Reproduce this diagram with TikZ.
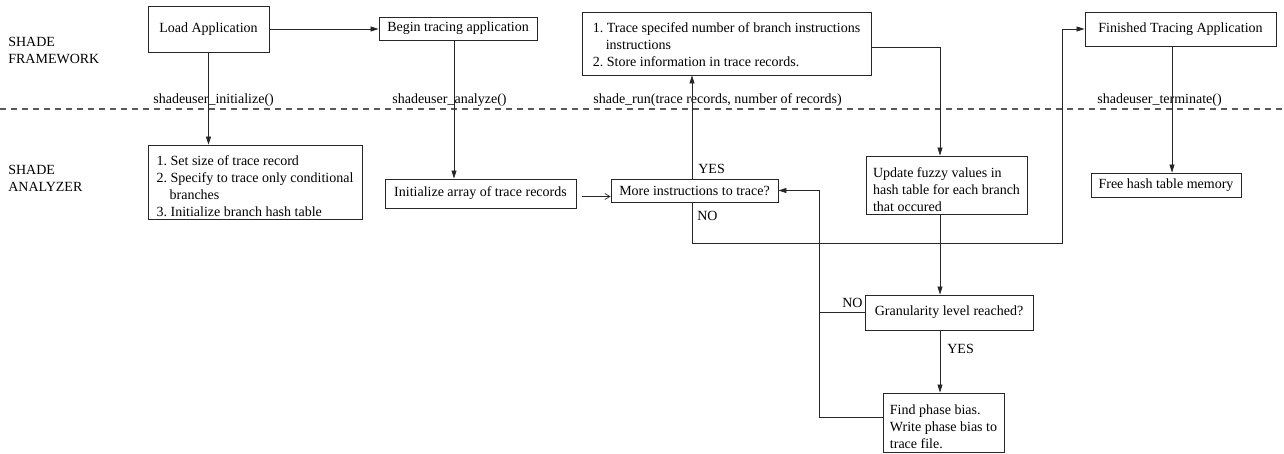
\documentclass[tikz,border=0pt]{standalone}
\usepackage{fontspec}
\setmainfont{Liberation Serif}
\usetikzlibrary{arrows.meta}
\usetikzlibrary{positioning}
\frenchspacing
\newcommand{\boxlines}[1]{\begin{tabular}[t]{@{}l@{}}#1\end{tabular}}

\begin{document}
\begin{tikzpicture}[x=1pt,y=-1pt,>={Triangle[length=8pt,width=5pt]},line width=0.7pt,draw=black!85]%,on grid
        \tikzstyle{every node}=[font=\fontsize{14}{17}\selectfont]
        \tikzstyle{box}=[draw=black!85, line width=0.9pt, inner xsep=6pt, inner ysep=0pt]
        \tikzstyle{lbl}=[inner sep=0pt, anchor=base west]
        \useasboundingbox (0,0) rectangle (1284,453);
        \node[inner sep=0pt, anchor=north west, align=left] (framework) at (8,37) {SHADE\\ FRAMEWORK};
        \node[inner sep=0pt, anchor=north west, align=left] (analyzer) at (8,165) {SHADE\\ ANALYZER};
        \draw[black!65, line width=1.2pt, dash pattern=on 6pt off 5pt] (0,109) -- (1284,109);
        \node[lbl] (init) at (153,103) {shadeuser\_initialize()};
        \node[lbl] (analyze) at (392,103) {shadeuser\_analyze()};
        \node[lbl] (run) at (593,103) {shade\_run(trace records, number of records)};
        \node[lbl] (terminate) at (1097,103) {shadeuser\_terminate()};
        \node[box, minimum width=121pt, minimum height=46pt] (load) at (208.5,29) {Load Application};
        \node[box, minimum width=158pt, minimum height=23pt] (begin) at (458,28.5) {Begin tracing application};
        \node[box, minimum width=289pt, minimum height=63pt, text height=14.9pt, text depth=36.1pt] (trace) at (726.5,43.5) {\boxlines{1. Trace specifed number of branch instructions\\ \hspace*{13pt}instructions\\ 2. Store information in trace records.}};
        \node[box, minimum width=191pt, minimum height=34pt] (finished) at (1180.5,29) {Finished Tracing Application};
        \node[box, minimum width=214pt, minimum height=74pt, text height=17.9pt, text depth=50.1pt] (setsize) at (255,182) {\boxlines{1. Set size of trace record\\ 2. Specify to trace only conditional\\ \hspace*{13pt}branches\\ 3. Initialize branch hash table}};
        \node[box, minimum width=191pt, minimum height=29pt] (initarray) at (480.5,193.5) {Initialize array of trace records};
        \node[box, minimum width=167pt, minimum height=23pt] (more) at (694.5,190.5) {More instructions to trace?};
        \node[box, minimum width=161pt, minimum height=58pt, text height=17.9pt, text depth=33.1pt] (update) at (946.5,185) {\boxlines{Update fuzzy values in\\ hash table for each branch\\ that occured}};
        \node[box, minimum width=150pt, minimum height=24pt] (free) at (1166,185) {Free hash table memory};
        \node[box, minimum width=168pt, minimum height=35pt] (gran) at (949,312.5) {Granularity level reached?};
        \node[box, minimum width=121pt, minimum height=59pt, text height=17.9pt, text depth=33.1pt] (phase) at (943.5,422.5) {\boxlines{Find phase bias.\\ Write phase bias to\\ trace file.}};
        \node[lbl] (yesmore) at (698,173) {YES};
        \node[lbl] (nomore) at (697,220) {NO};
        \node[lbl] (nogran) at (842,307) {NO};
        \node[lbl] (yesgran) at (947,353) {YES};
        \coordinate (nobend) at (1062,243);
        \coordinate (back) at (819,312.5);
        \path [->,draw] (load.east) -- (load.east -| begin.west);
        \path [->,draw] (load.south) -- (load.south |- setsize.north);
        \path [->,draw] ([xshift=-4pt]begin.south) -- ([xshift=-4pt]begin.south |- initarray.north);
        \path [draw,-{Straight Barb[length=5pt,width=6pt]}] ([xshift=6pt,yshift=-3pt]initarray.east) -- ([yshift=-3pt]initarray.east -| more.west);
        \path [->,draw] ([xshift=-2.5pt]more.north) -- ([xshift=-2.5pt]more.north |- trace.south);
        \path [->,draw] ([yshift=-3.5pt]trace.east) -| ([xshift=-6.5pt]update.north);
        \path [->,draw] ([xshift=-2.5pt]more.south) |- (nobend) |- (finished.west);
        \path [->,draw] ([xshift=-6.5pt]update.south) -- ([xshift=-6.5pt]update.south |- gran.north);
        \path [draw] (gran.west) -- (back);
        \path [->,draw] ([yshift=5.5pt]phase.west) -| (back) |- (more.east);
        \path [->,draw] ([xshift=-9pt]gran.south) -- ([xshift=-9pt]gran.south |- phase.north);
        \path [->,draw] ([xshift=-8.5pt]finished.south) -- ([xshift=-8.5pt]finished.south |- free.north);
      \end{tikzpicture}
\end{document}
